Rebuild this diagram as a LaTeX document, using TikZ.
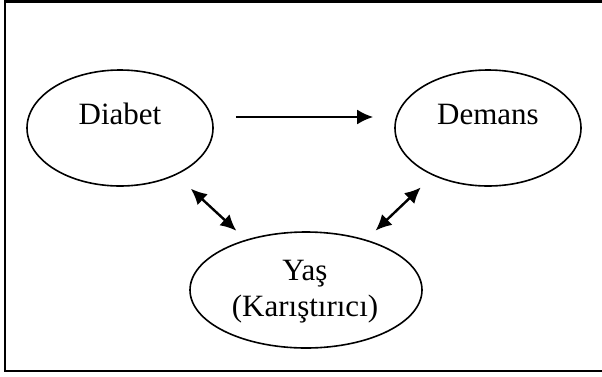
\documentclass[tikz,border=0pt]{standalone}
\usepackage{fontspec}
\setmainfont{Liberation Serif}
\usepackage{tikz}
\usetikzlibrary{shapes.geometric, arrows.meta, positioning}

\begin{document}
\begin{tikzpicture}[
    x=1pt, y=-1pt,
    blob/.style={
      ellipse, draw=black, line width=1.6pt,
      minimum width=186pt, minimum height=116pt, inner sep=0pt
    },
    lbl/.style={
      align=center, font=\fontsize{31}{36}\selectfont, inner sep=0pt
    },
    arr/.style={-{Latex[length=16pt,width=15pt]}, line width=2.4pt},
    dbl/.style={{Latex[length=16pt,width=15pt]}-{Latex[length=16pt,width=15pt]}, line width=2.4pt}
]
  \useasboundingbox (0,0) rectangle (602,376);
  \draw[line width=2.2pt] (5,1.5) rectangle (610,371);

  \node[blob] (diabet) at (120,128) {};
  \node[blob] (demans) at (488,128) {};
  \node[blob, minimum width=232pt] (yas) at (306,290) {};

  \node[lbl] (diabettxt) at ([yshift=14pt]diabet.center) {Diabet};
  \node[lbl] (demanstxt) at ([yshift=14pt]demans.center) {Demans};
  \node[lbl] (yastxt)    at ([xshift=-1pt,yshift=-2pt]yas.center) {Yaş\\(Karıştırıcı)};

  \draw[arr] ([yshift=11pt]diabet.east) [shorten <=22pt, shorten >=21pt] -- ([yshift=11pt]demans.west);
  \draw[dbl, shorten <=20pt, shorten >=13pt] (diabet.-40) -- (yas.140);
  \draw[dbl, shorten <=17pt, shorten >=13pt] (demans.-139) -- (yas.40);
\end{tikzpicture}
\end{document}
